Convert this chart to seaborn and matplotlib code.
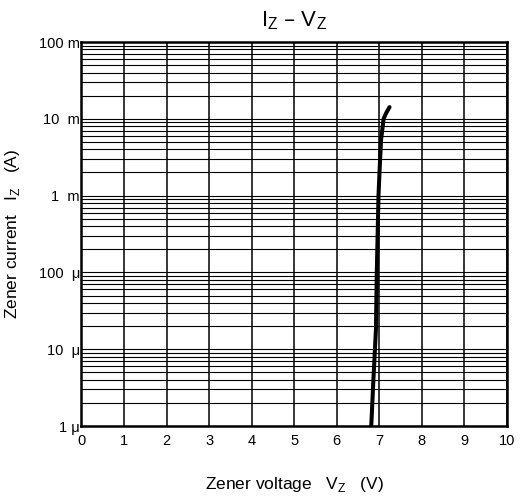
import numpy as np
import pandas as pd
import seaborn as sns
import matplotlib.pyplot as plt
from matplotlib.ticker import FixedLocator, LogLocator, NullFormatter

# Zener current vs voltage
vz = [6.81, 6.86, 6.92, 6.94, 6.98, 7.01, 7.04, 7.10, 7.16, 7.24]
iz = [1e-6, 4e-6, 1.8e-5, 1e-4, 1e-3, 2.4e-3, 5.3e-3, 1e-2, 1.19e-2, 1.42e-2]

ytick_vals = [1e-6, 1e-5, 1e-4, 1e-3, 1e-2, 1e-1]
ytick_labels = ["1 μ", "10  μ", "100  μ", "1  m", "10  m", "100 m"]
xtick_vals = list(range(0, 11))

sns.set_theme(style="white")
plt.rcParams['font.family'] = ['Liberation Sans', 'DejaVu Sans']

df = pd.DataFrame({"Vz": vz, "Iz": iz})

fig = plt.figure(figsize=(5.2, 4.96), dpi=100)
ax = fig.add_axes([0.1567, 0.1411, 0.8183, 0.7742])

sns.lineplot(data=df, x="Vz", y="Iz", ax=ax, color="black", linewidth=2.9,
             sort=False, zorder=5)

ax.set_yscale("log")
ax.set_xlim(0, 10)
ax.set_ylim(1e-6, 1e-1)

ax.xaxis.set_major_locator(FixedLocator(xtick_vals))
ax.set_xticklabels([str(v) for v in xtick_vals])
ax.yaxis.set_major_locator(FixedLocator(ytick_vals))
ax.set_yticklabels(ytick_labels)
ax.yaxis.set_minor_locator(LogLocator(base=10, subs=np.arange(2, 10)))
ax.yaxis.set_minor_formatter(NullFormatter())

ax.grid(True, which="major", axis="x", color="black", linewidth=1.1)
ax.grid(True, which="both", axis="y", color="black", linewidth=0.8)
ax.tick_params(axis="both", which="both", length=0, labelsize=10.5, colors="black")
ax.tick_params(axis="x", pad=6)
ax.tick_params(axis="y", pad=1)

for s in ax.spines.values():
    s.set_color("black")
    s.set_linewidth(1.8)

ax.set_xlabel(r"Zener voltage   V$_\mathregular{Z}$   (V)", fontsize=12.5,
              color="black")
ax.set_ylabel(r"Zener current   I$_\mathregular{Z}$   (A)", fontsize=12.5,
              color="black")
ax.xaxis.set_label_coords(0.5, -0.128)
ax.yaxis.set_label_coords(-0.14, 0.5)
ax.set_title(r"I$_\mathregular{Z}$ – V$_\mathregular{Z}$", fontsize=16,
             color="black", pad=11)

plt.savefig("out.png", dpi=100)
